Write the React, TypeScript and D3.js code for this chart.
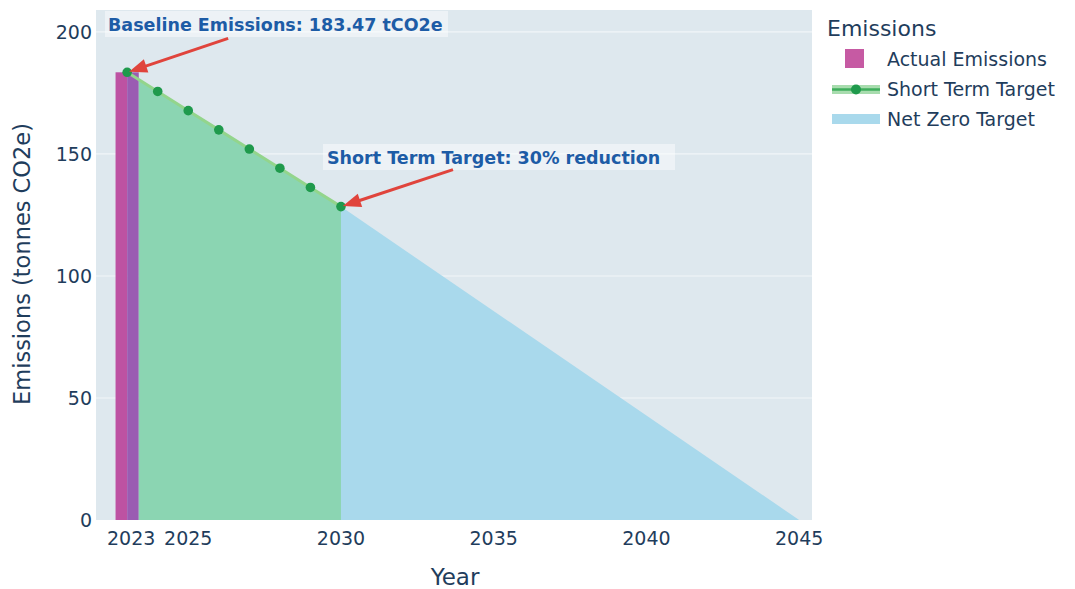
import React from "react";
import * as d3 from "d3";

// ---- data ----
const actualYears = [2023];
const actualValues = [183.47];

const shortTermYears = [2023, 2024, 2025, 2026, 2027, 2028, 2029, 2030];
const shortTermValues = [183.47, 175.61, 167.75, 159.88, 152.02, 144.16, 136.29, 128.43];

const netZeroYears = [2030, 2045];
const netZeroValues = [128.43, 0];

const xTicks = [2023, 2025, 2030, 2035, 2040, 2045];
const yTicks = [0, 50, 100, 150, 200];

const legendLabels = ["Actual Emissions", "Short Term Target", "Net Zero Target"];

const W = 1075;
const H = 589;
const plot = { left: 96, right: 812, top: 10, bottom: 520 };

const FONT = "'DejaVu Sans', Verdana, sans-serif";
const TXT = "#1f3d5c";
const ANN = "#1d5ca6";
const RED = "#e0443c";

function Arrow({ x, y, dx, dy }: { x: number; y: number; dx: number; dy: number }) {
  // tip at (x, y), tail at (x+dx, y+dy)
  const len = Math.hypot(dx, dy);
  const ux = dx / len;
  const uy = dy / len;
  const tipX = x + ux * 2;
  const tipY = y + uy * 2;
  const headL = 18;
  const headW = 7;
  const bx = tipX + ux * headL;
  const by = tipY + uy * headL;
  const head = [
    [tipX, tipY],
    [bx - uy * headW, by + ux * headW],
    [bx + uy * headW, by - ux * headW],
  ];
  return (
    <g>
      <line x1={bx - ux * 2} y1={by - uy * 2} x2={x + dx} y2={y + dy} stroke={RED} strokeWidth={3} />
      <polygon points={head.map((p) => p.join(",")).join(" ")} fill={RED} />
    </g>
  );
}

export default function App() {
  const x = d3.scaleLinear().domain([2021.98, 2045.42]).range([plot.left, plot.right]);
  const y = d3.scaleLinear().domain([0, 209]).range([plot.bottom, plot.top]);

  const barHalf = 0.38;

  const area = d3
    .area<[number, number]>()
    .x((d) => x(d[0]))
    .y0(y(0))
    .y1((d) => y(d[1]));
  const line = d3
    .line<[number, number]>()
    .x((d) => x(d[0]))
    .y((d) => y(d[1]));

  const stPts = shortTermYears.map((yr, i) => [yr, shortTermValues[i]] as [number, number]);
  const nzPts = netZeroYears.map((yr, i) => [yr, netZeroValues[i]] as [number, number]);

  const baseX = x(actualYears[0]);
  const baseY = y(actualValues[0]);
  const stX = x(shortTermYears[shortTermYears.length - 1]);
  const stY = y(shortTermValues[shortTermValues.length - 1]);

  return (
    <svg
      width={W}
      height={H}
      style={{ position: "absolute", left: 0, top: 0, background: "#ffffff" }}
      fontFamily={FONT}
    >
      <rect x={plot.left} y={plot.top} width={plot.right - plot.left} height={plot.bottom - plot.top} fill="#dee8ee" />
      {yTicks.slice(1).map((t) => (
        <line key={t} x1={plot.left} x2={plot.right} y1={y(t)} y2={y(t)} stroke="#f1f6f8" strokeWidth={1.2} />
      ))}

      {/* actual emissions bar */}
      {actualYears.map((yr, i) => (
        <g key={yr}>
          <rect
            x={x(yr - barHalf)}
            y={y(actualValues[i])}
            width={x(yr) - x(yr - barHalf)}
            height={y(0) - y(actualValues[i])}
            fill="#bd52a2"
          />
          <rect
            x={x(yr)}
            y={y(actualValues[i])}
            width={x(yr + barHalf) - x(yr)}
            height={y(0) - y(actualValues[i])}
            fill="#9a5cb2"
          />
        </g>
      ))}

      {/* net zero fill */}
      <path d={area(nzPts) || ""} fill="#a9d9ec" />
      {/* short term fill + line */}
      <path
        d={area([[actualYears[0] + barHalf, shortTermValues[0] - (shortTermValues[0] - shortTermValues[1]) * barHalf], ...stPts.slice(1)]) || ""}
        fill="#8bd5b2"
      />
      <path d={line(stPts) || ""} fill="none" stroke="#93d58c" strokeWidth={3} />
      {stPts.map((p, i) => (
        <circle key={i} cx={x(p[0])} cy={y(p[1])} r={4.8} fill="#1f9a4c" />
      ))}

      {/* y ticks */}
      {yTicks.map((t) => (
        <text key={t} x={plot.left - 4} y={y(t)} dy="0.35em" textAnchor="end" fontSize={19} fill={TXT}>
          {t}
        </text>
      ))}
      {/* x ticks */}
      {xTicks.map((t) => (
        <text key={t} x={x(t) + (t === 2023 ? 4 : 0)} y={plot.bottom + 25} textAnchor="middle" fontSize={19} fill={TXT}>
          {t}
        </text>
      ))}
      <text x={455} y={585} textAnchor="middle" fontSize={23} fill={TXT}>
        Year
      </text>
      <text transform={`translate(22, 264) rotate(-90)`} dy="0.35em" textAnchor="middle" fontSize={22.5} fill={TXT}>
        Emissions (tonnes CO2e)
      </text>

      {/* annotations */}
      <rect x={105} y={11} width={343} height={26} fill="#ffffff" opacity={0.45} />
      <text x={108} y={31} fontSize={17.5} fontWeight="bold" fill={ANN}>
        Baseline Emissions: 183.47 tCO2e
      </text>
      <Arrow x={baseX} y={baseY} dx={101} dy={-34} />

      <rect x={323} y={144} width={352} height={26} fill="#ffffff" opacity={0.45} />
      <text x={327} y={164} fontSize={17.5} fontWeight="bold" fill={ANN}>
        Short Term Target: 30% reduction
      </text>
      <Arrow x={stX} y={stY} dx={112} dy={-37} />

      {/* legend */}
      <text x={827} y={36} fontSize={22} fill={TXT}>
        Emissions
      </text>
      <rect x={845} y={49} width={19} height={19} fill="#c65aa3" />
      <rect x={832} y={85} width={48} height={9} fill="#a8dcae" />
      <line x1={832} x2={880} y1={89.5} y2={89.5} stroke="#3fae5c" strokeWidth={2.5} />
      <circle cx={856} cy={89.5} r={5} fill="#1f9a4c" />
      <rect x={832} y={114} width={48} height={10} fill="#a9d9ec" />
      {legendLabels.map((l, i) => (
        <text key={l} x={887} y={59 + i * 30} dy="0.35em" fontSize={19} fill={TXT}>
          {l}
        </text>
      ))}
    </svg>
  );
}
